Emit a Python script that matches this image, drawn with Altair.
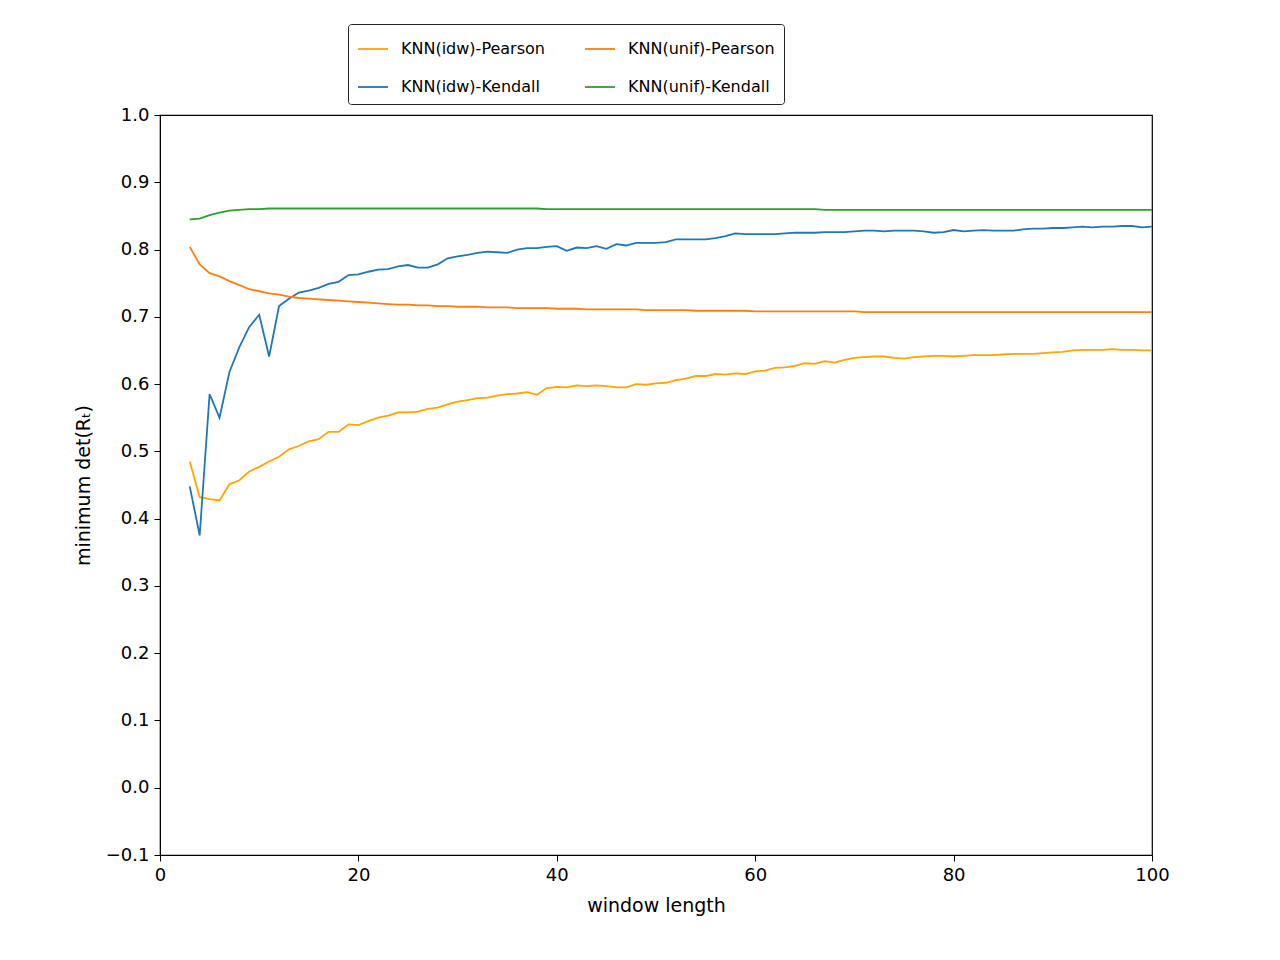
import altair as alt
import pandas as pd

WINDOW = list(range(3, 101))

IDW_PEARSON = [
    0.485, 0.432, 0.429, 0.427, 0.451, 0.457, 0.470, 0.477, 0.485, 0.492,  # 3-12
    0.503, 0.508, 0.515, 0.518, 0.529, 0.529, 0.540, 0.539, 0.545, 0.550,  # 13-22
    0.553, 0.558, 0.558, 0.559, 0.563, 0.565, 0.570, 0.574, 0.576, 0.579,  # 23-32
    0.580, 0.583, 0.585, 0.586, 0.588, 0.584, 0.594, 0.596, 0.595, 0.598,  # 33-42
    0.597, 0.598, 0.597, 0.595, 0.595, 0.600, 0.599, 0.601, 0.602, 0.606,  # 43-52
    0.608, 0.612, 0.612, 0.615, 0.614, 0.616, 0.615, 0.619, 0.620, 0.624,  # 53-62
    0.625, 0.627, 0.631, 0.630, 0.634, 0.632, 0.636, 0.639, 0.640, 0.641,  # 63-72
    0.641, 0.639, 0.638, 0.640, 0.641, 0.642, 0.642, 0.641, 0.642, 0.643,  # 73-82
    0.643, 0.643, 0.644, 0.645, 0.645, 0.645, 0.646, 0.647, 0.648, 0.650,  # 83-92
    0.651, 0.651, 0.651, 0.652, 0.651, 0.651, 0.650, 0.650,                # 93-100
]
IDW_KENDALL = [
    0.448, 0.375, 0.585, 0.550, 0.618, 0.655, 0.685, 0.703, 0.641, 0.716,
    0.727, 0.736, 0.739, 0.743, 0.749, 0.752, 0.762, 0.763, 0.767, 0.770,
    0.771, 0.775, 0.777, 0.773, 0.773, 0.778, 0.787, 0.790, 0.792, 0.795,
    0.797, 0.796, 0.795, 0.800, 0.802, 0.802, 0.804, 0.805, 0.798, 0.803,
    0.802, 0.805, 0.801, 0.808, 0.806, 0.810, 0.810, 0.810, 0.811, 0.815,
    0.815, 0.815, 0.815, 0.817, 0.820, 0.824, 0.823, 0.823, 0.823, 0.823,
    0.824, 0.825, 0.825, 0.825, 0.826, 0.826, 0.826, 0.827, 0.828, 0.828,
    0.827, 0.828, 0.828, 0.828, 0.827, 0.825, 0.826, 0.829, 0.827, 0.828,
    0.829, 0.828, 0.828, 0.828, 0.830, 0.831, 0.831, 0.832, 0.832, 0.833,
    0.834, 0.833, 0.834, 0.834, 0.835, 0.835, 0.833, 0.834,
]
UNIF_PEARSON = [
    0.804, 0.778, 0.765, 0.760, 0.753, 0.747, 0.741, 0.738, 0.735, 0.733,
    0.730, 0.728, 0.727, 0.726, 0.725, 0.724, 0.723, 0.722, 0.721, 0.720,
    0.719, 0.718, 0.718, 0.717, 0.717, 0.716, 0.716, 0.715, 0.715, 0.715,
    0.714, 0.714, 0.714, 0.713, 0.713, 0.713, 0.713, 0.712, 0.712, 0.712,
    0.711, 0.711, 0.711, 0.711, 0.711, 0.711, 0.710, 0.710, 0.710, 0.710,
    0.710, 0.709, 0.709, 0.709, 0.709, 0.709, 0.709, 0.708, 0.708, 0.708,
    0.708, 0.708, 0.708, 0.708, 0.708, 0.708, 0.708, 0.708, 0.707, 0.707,
    0.707, 0.707, 0.707, 0.707, 0.707, 0.707, 0.707, 0.707, 0.707, 0.707,
    0.707, 0.707, 0.707, 0.707, 0.707, 0.707, 0.707, 0.707, 0.707, 0.707,
    0.707, 0.707, 0.707, 0.707, 0.707, 0.707, 0.707, 0.707,
]
UNIF_KENDALL = [
    0.845, 0.846, 0.851, 0.855, 0.858, 0.859, 0.860, 0.860, 0.861, 0.861,
    0.861, 0.861, 0.861, 0.861, 0.861, 0.861, 0.861, 0.861, 0.861, 0.861,
    0.861, 0.861, 0.861, 0.861, 0.861, 0.861, 0.861, 0.861, 0.861, 0.861,
    0.861, 0.861, 0.861, 0.861, 0.861, 0.861, 0.860, 0.860, 0.860, 0.860,
    0.860, 0.860, 0.860, 0.860, 0.860, 0.860, 0.860, 0.860, 0.860, 0.860,
    0.860, 0.860, 0.860, 0.860, 0.860, 0.860, 0.860, 0.860, 0.860, 0.860,
    0.860, 0.860, 0.860, 0.860, 0.859, 0.859, 0.859, 0.859, 0.859, 0.859,
    0.859, 0.859, 0.859, 0.859, 0.859, 0.859, 0.859, 0.859, 0.859, 0.859,
    0.859, 0.859, 0.859, 0.859, 0.859, 0.859, 0.859, 0.859, 0.859, 0.859,
    0.859, 0.859, 0.859, 0.859, 0.859, 0.859, 0.859, 0.859,
]

# legend fills column by column, as in the reference
SERIES = ["KNN(idw)-Pearson", "KNN(idw)-Kendall", "KNN(unif)-Pearson", "KNN(unif)-Kendall"]
COLORS = ["#ffa500", "#1f77b4", "#ff7f0e", "#2ca02c"]

df = pd.concat([
    pd.DataFrame({"window": WINDOW, "value": vals, "series": name})
    for name, vals in zip(SERIES, [IDW_PEARSON, IDW_KENDALL, UNIF_PEARSON, UNIF_KENDALL])
])

FONT = "DejaVu Sans"

chart = alt.Chart(df).mark_line(strokeWidth=1.8).encode(
    x=alt.X("window:Q", scale=alt.Scale(domain=[0, 100], nice=False),
            axis=alt.Axis(values=[0, 20, 40, 60, 80, 100], title="window length", labelFlush=False)),
    y=alt.Y("value:Q", scale=alt.Scale(domain=[-0.1, 1.0], nice=False, zero=False),
            axis=alt.Axis(values=[round(-0.1 + 0.1 * i, 1) for i in range(12)], format=".1f",
                          title="minimum det(Rₜ)")),
    color=alt.Color("series:N", sort=SERIES,
                    scale=alt.Scale(domain=SERIES, range=COLORS),
                    legend=alt.Legend(orient="none", legendX=188, legendY=-91, columns=2,
                                      title=None, symbolType="stroke", symbolSize=900,
                                      symbolStrokeWidth=1.8, labelFontSize=16, labelFont=FONT,
                                      columnPadding=36, rowPadding=14, padding=9,
                                      strokeColor="#222222", cornerRadius=3, fillColor="white",
                                      labelLimit=300, labelOffset=12)),
    order="series:N",
).properties(
    width=992, height=740,
    autosize=alt.AutoSizeParams(type="none"),
    padding={"left": 152, "top": 107, "right": 120, "bottom": 90},
).configure_view(
    stroke="black", strokeWidth=1.2
).configure_axis(
    grid=False, domainColor="black", tickColor="black", labelColor="black", titleColor="black",
    labelFont=FONT, titleFont=FONT, labelFontSize=18, titleFontSize=19, titleFontWeight="normal",
    tickSize=6, labelPadding=5, titlePadding=12,
)

chart.save("out.html", embed_options={"renderer": "svg", "actions": False})
